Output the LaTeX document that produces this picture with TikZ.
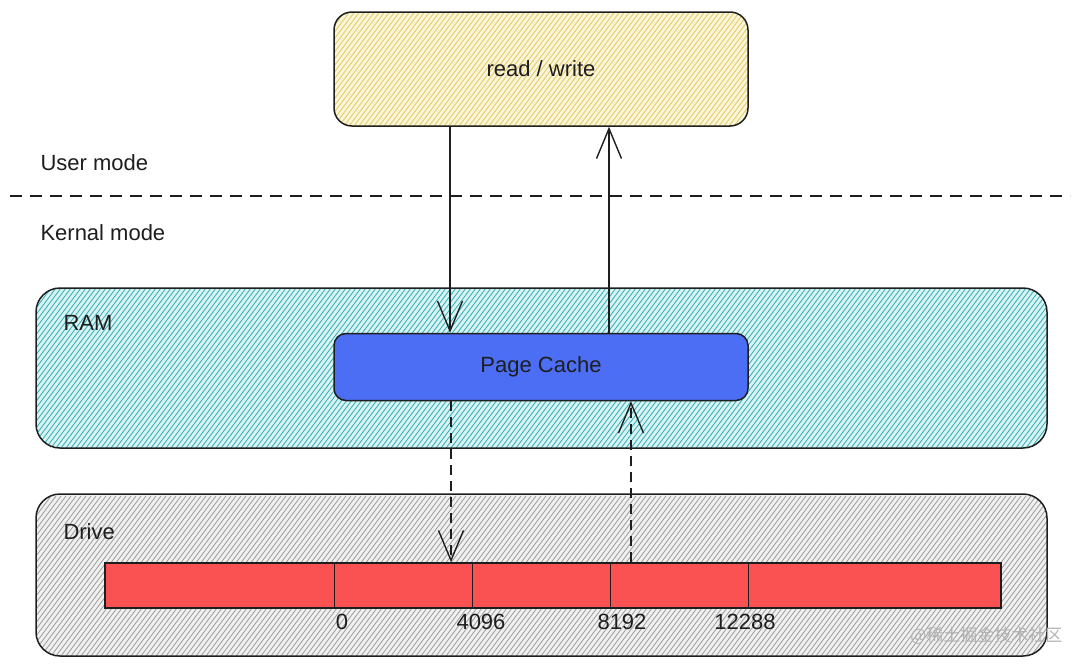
\documentclass[tikz,border=0pt]{standalone}
\usepackage{fontspec}
\setmainfont{Liberation Sans}
\newfontfamily\cjkfont{Noto Sans CJK SC}
\usetikzlibrary{arrows.meta}

\definecolor{ink}{HTML}{1E1E1E}
\definecolor{yelbg}{HTML}{FBF5DA}
\definecolor{yelline}{HTML}{E2C85E}
\definecolor{cyanbg}{HTML}{D6F4F4}
\definecolor{cyanline}{HTML}{38A9B2}
\definecolor{graybg}{HTML}{F0F0F0}
\definecolor{grayline}{HTML}{9C9C9C}
\definecolor{cacheblue}{HTML}{4C6EF5}
\definecolor{diskred}{HTML}{FA5252}

\tikzset{
  hatch/.style={path picture={
    \foreach \i in {0,5,...,1200}
      \draw[#1,line width=0.8pt] ([xshift={(\i-170)*1pt}]path picture bounding box.south west) -- ++(120pt,160pt);
  }},
  box/.style={draw=ink,line width=1.5pt,rounded corners=#1},
  lbl/.style={font=\fontsize{22}{26}\selectfont,text=ink},
  barb/.style={-{Straight Barb[length=30pt,width=25pt,line width=1.4pt]},line width=1.4pt,draw=ink}
}

\begin{document}
\begin{tikzpicture}[x=1pt,y=-1pt]
\useasboundingbox (0,0) rectangle (1080,667);

% user space
\node[box=18pt,fill=yelbg,hatch=yelline,minimum width=414pt,minimum height=114pt,lbl] (rw) at (541,69) {read / write};
\node[lbl,anchor=west] (user) at (37,163) {User mode};
\draw[ink,line width=1.4pt,dash pattern=on 12pt off 8pt] (10,196) -- (1070,196);
\node[lbl,anchor=west] (kernel) at (37,233) {Kernal mode};

% RAM
\node[box=24pt,fill=cyanbg,hatch=cyanline,minimum width=1011pt,minimum height=160pt] (ram) at (541.5,368) {};
\node[lbl,anchor=west] (ramlbl) at (60,323) {RAM};
\node[box=12pt,fill=cacheblue,minimum width=414pt,minimum height=67pt,lbl,text=ink] (cache) at (541,367) {Page Cache};

% drive
\node[box=24pt,fill=graybg,hatch=grayline,minimum width=1011pt,minimum height=162pt] (drive) at (541.5,575) {};
\node[lbl,anchor=west] (drivelbl) at (60,532) {Drive};
\node[draw=ink,line width=1.5pt,fill=diskred,minimum width=896pt,minimum height=45pt] (bar) at (553,585.5) {};
\foreach \x in {334,472,610,748}
  \draw[ink,line width=1pt] (bar.north -| \x,0) -- (bar.south -| \x,0);
\foreach \x/\t in {342/0,481/4096,622/8192,745/12288}
  \node[lbl] (off\t) at (\x,622) {\t};

% read / write paths
\draw[barb] (rw.south -| 450,0) -- (cache.north -| 450,0);
\draw[barb] (cache.north -| 609,0) -- (rw.south -| 609,0);
\draw[barb,dash pattern=on 10pt off 6pt] (cache.south -| 451,0) -- (bar.north -| 451,0);
\draw[barb,dash pattern=on 10pt off 6pt] (bar.north -| 631,0) -- (cache.south -| 631,0);

\node[text=gray!60,font=\cjkfont\fontsize{17}{20}\selectfont,anchor=east] (mark) at (1066,636) {@稀土掘金技术社区};
\end{tikzpicture}
\end{document}
